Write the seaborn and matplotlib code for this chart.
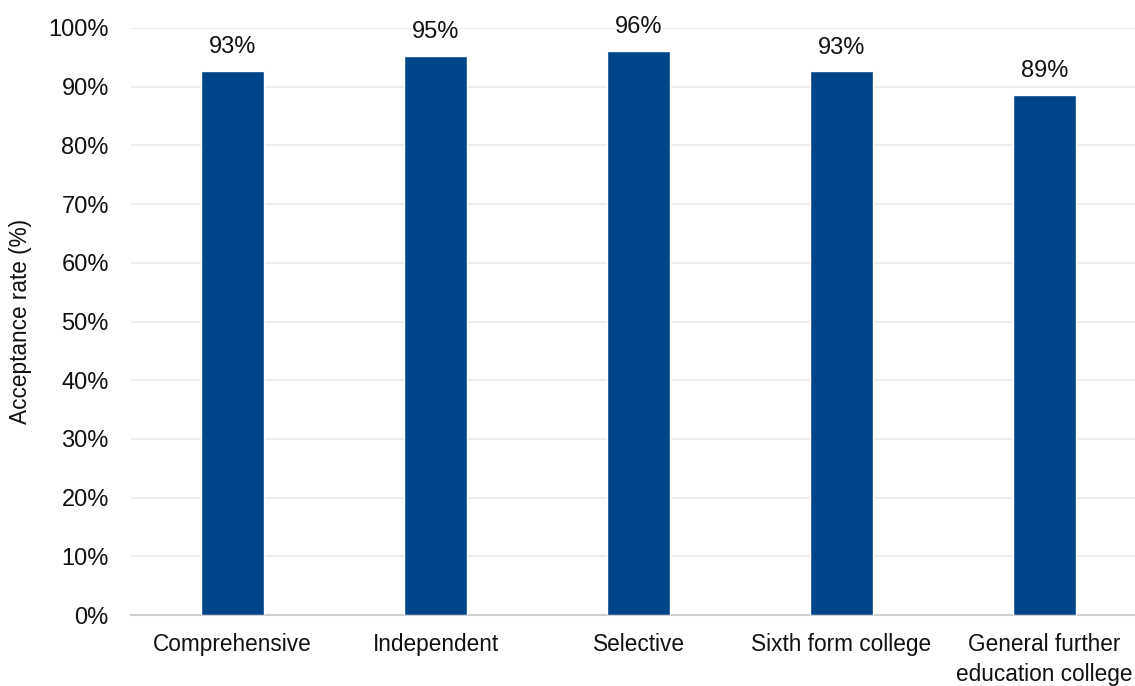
import pandas as pd
import seaborn as sns
import matplotlib.pyplot as plt
from matplotlib.ticker import PercentFormatter

# Values (acceptance rate, %)
categories = ['Comprehensive', 'Independent', 'Selective', 'Sixth form college',
              'General further\neducation college']
rates = [92.7, 95.3, 96.1, 92.6, 88.6]
labels = ['93%', '95%', '96%', '93%', '89%']

df = pd.DataFrame({'School type': categories, 'Rate': rates})

sns.set_style('white')
plt.rcParams['font.family'] = ['Liberation Sans', 'DejaVu Sans']

fig = plt.figure(figsize=(11.35, 6.86), dpi=100)
ax = fig.add_axes([131 / 1135, 71 / 686, 1015 / 1135, 587 / 686])

sns.barplot(data=df, x='School type', y='Rate', color='#00448a', width=0.31,
            saturation=1, ax=ax, zorder=3)

for patch, lab in zip(ax.patches, labels):
    ax.annotate(lab, (patch.get_x() + patch.get_width() / 2, patch.get_height()),
                xytext=(0, 9), textcoords='offset points', ha='center', va='bottom',
                fontsize=17, color='#111111')

ax.set_ylim(0, 100)
ax.set_yticks(range(0, 101, 10))
ax.yaxis.set_major_formatter(PercentFormatter(decimals=0))
ax.grid(axis='y', color='#ebebeb', linewidth=1.2, zorder=0)
ax.set_axisbelow(True)

for side in ['top', 'right', 'left']:
    ax.spines[side].set_visible(False)
ax.spines['bottom'].set_color('#d0d0d0')
ax.spines['bottom'].set_linewidth(1.5)

ax.tick_params(axis='both', length=0, labelcolor='#111111')
ax.tick_params(axis='x', pad=13, labelsize=16.3)
ax.tick_params(axis='y', pad=16, labelsize=17)
for t in ax.get_xticklabels():
    t.set_linespacing(1.4)
ax.set_xlabel('')
ax.set_ylabel('Acceptance rate (%)', fontsize=16.3, color='#111111', labelpad=12)

fig.savefig('out.png', dpi=100)
